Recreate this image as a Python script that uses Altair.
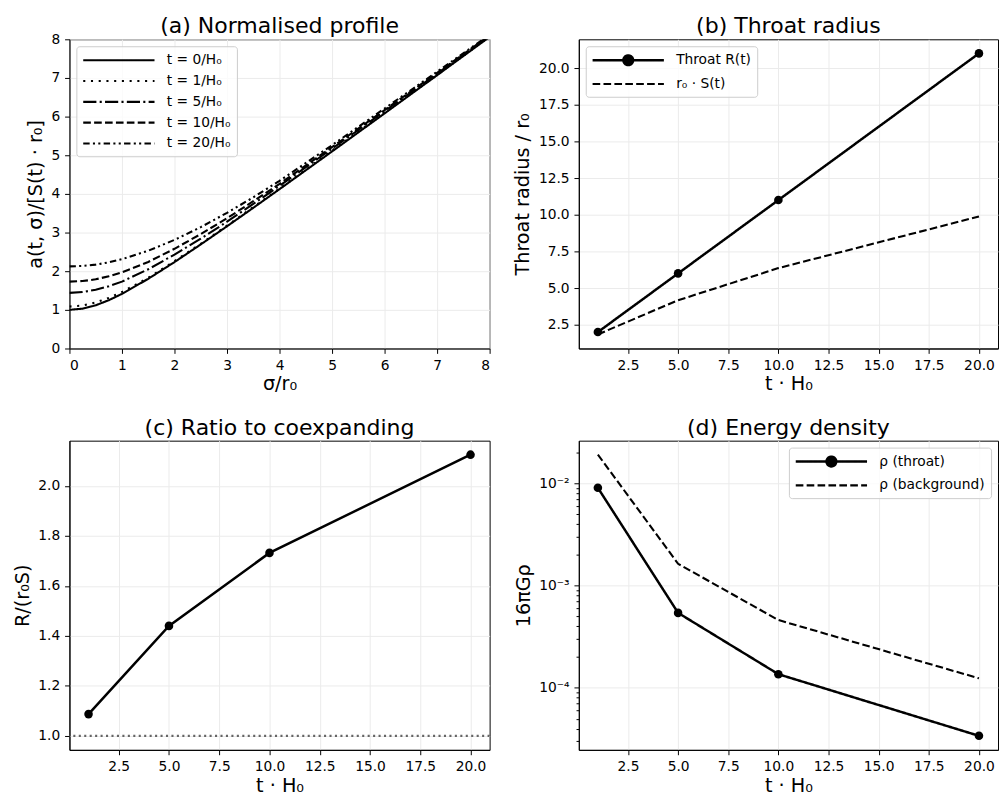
import altair as alt
import pandas as pd

# ---------------- data ----------------
# (a) normalised profile a(t,sigma)/[S(t) r0] vs sigma/r0
sigma_r0 = [0.0, 0.25, 0.5, 0.75, 1.0, 1.5, 2.0, 2.5, 3.0, 3.5, 4.0, 5.0, 6.0, 7.0, 8.0]
profile_t0 = [1.000, 1.031, 1.118, 1.250, 1.414, 1.803, 2.236, 2.693, 3.162, 3.640, 4.123, 5.099, 6.083, 7.071, 8.062]
profile_t1 = [1.087, 1.110, 1.190, 1.310, 1.460, 1.830, 2.260, 2.710, 3.180, 3.660, 4.140, 5.120, 6.100, 7.080, 8.070]
profile_t5 = [1.440, 1.460, 1.520, 1.610, 1.730, 2.050, 2.430, 2.840, 3.280, 3.740, 4.210, 5.170, 6.140, 7.110, 8.090]
profile_t10 = [1.730, 1.745, 1.790, 1.870, 1.970, 2.240, 2.580, 2.960, 3.370, 3.810, 4.260, 5.210, 6.170, 7.130, 8.100]
profile_t20 = [2.125, 2.135, 2.170, 2.230, 2.310, 2.530, 2.810, 3.140, 3.510, 3.910, 4.340, 5.260, 6.210, 7.160, 8.120]
profile_labels = ["t = 0/H₀", "t = 1/H₀", "t = 5/H₀", "t = 10/H₀", "t = 20/H₀"]

# (b)-(d) versus t*H0
t_H0 = [1, 5, 10, 20]
throat_R = [2.0, 6.0, 11.0, 21.0]
r0_S = [1.84, 4.17, 6.36, 9.88]
ratio_R_r0S = [1.087, 1.44, 1.732, 2.125]
ratio_reference = [1.0]
rho_throat = [9.0e-3, 5.4e-4, 1.36e-4, 3.4e-5]
rho_background = [1.9e-2, 1.63e-3, 4.6e-4, 1.24e-4]

b_labels = ["Throat R(t)", "r₀ · S(t)"]
d_labels = ["ρ (throat)", "ρ (background)"]

# ---------------- tables ----------------
rows = []
for lab, ser in zip(profile_labels, [profile_t0, profile_t1, profile_t5, profile_t10, profile_t20]):
    for s, v in zip(sigma_r0, ser):
        rows.append({"sigma": s, "value": v, "series": lab})
df_a = pd.DataFrame(rows)

df_b = pd.DataFrame(
    [{"t": t, "value": v, "series": b_labels[0]} for t, v in zip(t_H0, throat_R)]
    + [{"t": t, "value": v, "series": b_labels[1]} for t, v in zip(t_H0, r0_S)]
)
df_b_pts = pd.DataFrame({"t": t_H0, "value": throat_R})
df_c = pd.DataFrame({"t": t_H0, "value": ratio_R_r0S})
df_c_ref = pd.DataFrame({"y": ratio_reference})
df_d = pd.DataFrame(
    [{"t": t, "value": v, "series": d_labels[0]} for t, v in zip(t_H0, rho_throat)]
    + [{"t": t, "value": v, "series": d_labels[1]} for t, v in zip(t_H0, rho_background)]
)
df_d_pts = pd.DataFrame({"t": t_H0, "value": rho_throat})

# ---------------- styling ----------------
W1, W2 = 424, 423
H = 312
LW_A = 2.1
LW_MAIN = 2.5
LW_DASH = 2.1
MARK = 75
LEG_FS = 13.9
TITLE_FS = 22.2
t_ticks = [2.5, 5.0, 7.5, 10.0, 12.5, 15.0, 17.5, 20.0]
t_scale = alt.Scale(domain=[0.05, 20.95], nice=False, zero=False)

dash_a = [[1, 0], [2.1, 5.7], [13.3, 3.3, 2.1, 3.3], [7.7, 3.3], [6.5, 3.3, 2.1, 3.3, 2.1, 3.3]]

# legend handle: a line 10 units long (unit = sqrt(size)/2 = 7.2 px) -> 72 px
LEG_SIZE = 207
LINE_PATH = "M-1,0H9"
LINE_DOT_PATH = "M-1,0H9M3.32,0A0.68,0.68,0,1,0,4.68,0A0.68,0.68,0,1,0,3.32,0Z"

legend_common = dict(
    title=None,
    fillColor="rgba(255,255,255,0.8)",
    strokeColor="#cccccc",
    cornerRadius=3,
    padding=5.6,
    offset=7,
    labelFontSize=LEG_FS,
    labelFont="DejaVu Sans",
    labelColor="black",
    rowPadding=5,
    symbolSize=LEG_SIZE,
    symbolStrokeColor="black",
    symbolOffset=0,
    labelOffset=68.6,
)


def panel_title(text, offset):
    return alt.TitleParams(text=text, fontSize=TITLE_FS, fontWeight="normal", anchor="middle",
                           frame="group", offset=offset, color="black", font="DejaVu Sans")


# ---------------- panel (a) ----------------
chart_a = alt.Chart(df_a).mark_line(color="black", strokeWidth=LW_A, clip=True).encode(
    x=alt.X("sigma:Q", scale=alt.Scale(domain=[0, 8], nice=False),
            axis=alt.Axis(title="σ/r₀", values=list(range(9)), format="d")),
    y=alt.Y("value:Q", scale=alt.Scale(domain=[0, 8], nice=False),
            axis=alt.Axis(title="a(t, σ)/[S(t) · r₀]", values=list(range(9)), format="d")),
    strokeDash=alt.StrokeDash(
        "series:N",
        scale=alt.Scale(domain=profile_labels, range=dash_a),
        legend=alt.Legend(orient="top-left", symbolType=LINE_PATH,
                          symbolStrokeWidth=LW_A, **legend_common),
    ),
    order="sigma:Q",
).properties(width=W1, height=H, title=panel_title("(a) Normalised profile", -5))

# ---------------- panel (b) ----------------
sym_expr_b = f"datum.value == 'Throat R(t)' ? '{LINE_DOT_PATH}' : '{LINE_PATH}'"
lw_expr_b = f"datum.value == 'Throat R(t)' ? {LW_MAIN} : {LW_DASH}"
lines_b = alt.Chart(df_b).mark_line(color="black").encode(
    x=alt.X("t:Q", scale=t_scale, axis=alt.Axis(title="t · H₀", values=t_ticks, format=".1f")),
    y=alt.Y("value:Q", scale=alt.Scale(domain=[0.88, 21.96], nice=False, zero=False),
            axis=alt.Axis(title="Throat radius / r₀", values=t_ticks, format=".1f")),
    strokeDash=alt.StrokeDash(
        "series:N", scale=alt.Scale(domain=b_labels, range=[[1, 0], [7.7, 3.3]]),
        legend=alt.Legend(orient="top-left", symbolType={"expr": sym_expr_b},
                          symbolFillColor="black", symbolStrokeWidth={"expr": lw_expr_b},
                          **legend_common),
    ),
    strokeWidth=alt.StrokeWidth("series:N", scale=alt.Scale(domain=b_labels, range=[LW_MAIN, LW_DASH]),
                                legend=None),
)
pts_b = alt.Chart(df_b_pts).mark_circle(color="black", size=MARK, opacity=1).encode(
    x="t:Q", y="value:Q")
chart_b = alt.layer(lines_b, pts_b).properties(width=W2, height=H,
                                               title=panel_title("(b) Throat radius", 2))

# ---------------- panel (c) ----------------
ref_c = alt.Chart(df_c_ref).mark_rule(color="#555555", strokeDash=[2.1, 3.4], strokeWidth=2.1, opacity=0.9).encode(
    y=alt.Y("y:Q"))
line_c = alt.Chart(df_c).mark_line(color="black", strokeWidth=LW_MAIN).encode(
    x=alt.X("t:Q", scale=t_scale, axis=alt.Axis(title="t · H₀", values=t_ticks, format=".1f")),
    y=alt.Y("value:Q", scale=alt.Scale(domain=[0.944, 2.181], nice=False, zero=False),
            axis=alt.Axis(title="R/(r₀S)", values=[1.0, 1.2, 1.4, 1.6, 1.8, 2.0], format=".1f")),
)
pts_c = alt.Chart(df_c).mark_circle(color="black", size=MARK, opacity=1).encode(x="t:Q", y="value:Q")
chart_c = alt.layer(line_c, ref_c, pts_c).properties(width=W1, height=H,
                                                     title=panel_title("(c) Ratio to coexpanding", 2))

# ---------------- panel (d) ----------------
sym_expr_d = f"datum.value == 'ρ (throat)' ? '{LINE_DOT_PATH}' : '{LINE_PATH}'"
lw_expr_d = f"datum.value == 'ρ (throat)' ? {LW_MAIN} : {LW_DASH}"
y_scale_d = alt.Scale(type="log", domain=[2.48e-5, 2.6e-2], nice=False)
minor_d = [3e-5, 4e-5, 5e-5, 6e-5, 7e-5, 8e-5, 9e-5,
           2e-4, 3e-4, 4e-4, 5e-4, 6e-4, 7e-4, 8e-4, 9e-4,
           2e-3, 3e-3, 4e-3, 5e-3, 6e-3, 7e-3, 8e-3, 9e-3, 2e-2]
lines_d = alt.Chart(df_d).mark_line(color="black").encode(
    x=alt.X("t:Q", scale=t_scale, axis=alt.Axis(title="t · H₀", values=t_ticks, format=".1f")),
    y=alt.Y("value:Q", scale=y_scale_d,
            axis=alt.Axis(title="16πGρ", values=[1e-4, 1e-3, 1e-2],
                          labelExpr="datum.value < 0.0005 ? '10⁻⁴' : (datum.value < 0.005 ? '10⁻³' : '10⁻²')")),
    strokeDash=alt.StrokeDash(
        "series:N", scale=alt.Scale(domain=d_labels, range=[[1, 0], [7.7, 3.3]]),
        legend=alt.Legend(orient="top-right", symbolType={"expr": sym_expr_d},
                          symbolFillColor="black", symbolStrokeWidth={"expr": lw_expr_d},
                          **legend_common),
    ),
    strokeWidth=alt.StrokeWidth("series:N", scale=alt.Scale(domain=d_labels, range=[LW_MAIN, LW_DASH]),
                                legend=None),
)
pts_d = alt.Chart(df_d_pts).mark_circle(color="black", size=MARK, opacity=1).encode(
    x="t:Q", y=alt.Y("value:Q", scale=y_scale_d, axis=None))
minor_axis_d = alt.Chart(df_d_pts).mark_circle(opacity=0).encode(
    x="t:Q",
    y=alt.Y("value:Q", scale=y_scale_d,
            axis=alt.Axis(values=minor_d, labels=False, grid=False, domain=False, tickSize=2.8,
                          title=None, orient="left")),
)
chart_d = alt.layer(lines_d, pts_d, minor_axis_d).resolve_axis(y="independent").properties(
    width=W2, height=H, title=panel_title("(d) Energy density", 2))

# ---------------- assemble ----------------
chart = alt.concat(
    chart_a, chart_b, chart_c, chart_d, columns=2,
    spacing=alt.RowColnumber(row=93, column=90), bounds="flush",
).resolve_scale(
    strokeDash="independent", strokeWidth="independent"
).resolve_legend(
    strokeDash="independent", strokeWidth="independent"
).properties(padding={"left": 4, "top": 3, "right": 0, "bottom": 0}).configure(
    font="DejaVu Sans"
).configure_axis(
    labelFontSize=13.9, titleFontSize=19.4, titleFontWeight="normal",
    labelColor="black", titleColor="black", tickColor="black", domainColor="black",
    domainWidth=1, tickWidth=1, tickSize=4.9, labelPadding=4.9,
    gridColor="#ebebeb", gridWidth=1, labelFont="DejaVu Sans", titleFont="DejaVu Sans",
).configure_axisX(titlePadding=3).configure_axisY(titlePadding=5.6).configure_view(
    stroke="black", strokeWidth=1
)

chart.save("out.html", embed_options={"renderer": "svg", "actions": False})
